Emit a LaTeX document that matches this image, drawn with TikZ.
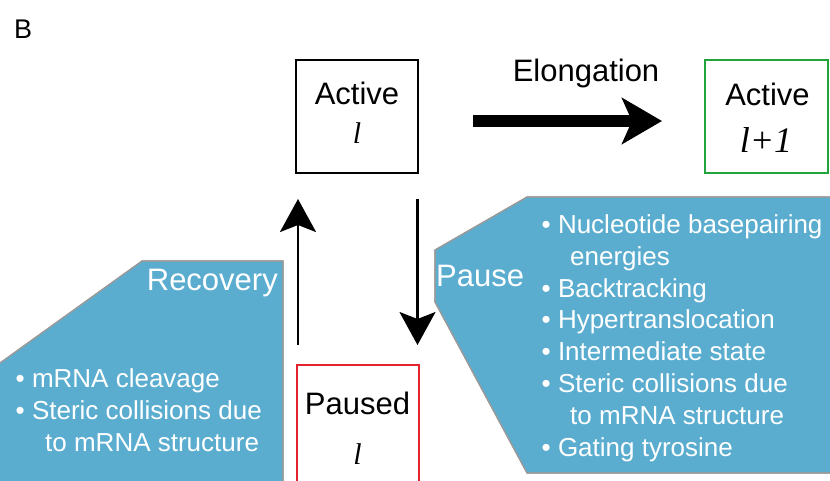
\documentclass[tikz,border=0pt]{standalone}
\usepackage{fontspec}
\setmainfont{Liberation Sans}
\newfontfamily\timesfont{Liberation Serif}
\usetikzlibrary{arrows.meta}
\definecolor{panelblue}{HTML}{5BADD0}
\definecolor{panelgray}{HTML}{9A9A9A}
\definecolor{boxgreen}{HTML}{22A33C}
\definecolor{boxred}{HTML}{E3242B}
\begin{document}
\begin{tikzpicture}[x=1pt,y=-1pt,
  statebox/.style={draw=#1, line width=2pt, minimum width=122pt, minimum height=113pt, inner sep=0pt},
  title/.style={font=\fontsize{31}{37}\selectfont, inner sep=0pt, anchor=base},
  var/.style={font=\timesfont\itshape\fontsize{30}{36}\selectfont, inner sep=0pt, anchor=base},
  panel/.style={fill=panelblue, draw=panelgray, line width=1.2pt},
  bul/.style={font=\fontsize{26}{31}\selectfont, text=white, inner sep=0pt, anchor=base west},
  smallarr/.style={line width=2.5pt, -{Stealth[length=33pt,width=36pt,inset=7pt]}},
  bigarr/.style={line width=12pt, -{Stealth[length=40pt,width=46pt,inset=10pt]}}]
\useasboundingbox (0,0) rectangle (830,480);

% panels
\fill[panel] (0,363) -- (142,261) -- (283,261) -- (283,490) -- (-2,490) -- (-2,363) -- cycle;
\fill[panel] (527,197) -- (840,197) -- (840,473) -- (527,473) -- (435,302) -- (435,250) -- cycle;
\draw[panelgray, line width=1.2pt] (0,363) -- (142,261) -- (283,261) -- (283,490);
\draw[panelgray, line width=1.2pt] (840,197) -- (527,197) -- (435,250) -- (435,302) -- (527,473) -- (840,473);

% label B
\node[font=\fontsize{27}{32}\selectfont, inner sep=0pt, anchor=base west] (lblB) at (14,38) {B};

% state boxes
\node[statebox=black] (active) at (357,116.5) {};
\node[statebox=boxgreen, minimum width=123pt] (activeB) at (766.5,116.5) {};
\node[statebox=boxred, minimum height=118pt] (paused) at (357.5,424) {};

\node[title] (activeT) at (357,104.3) {Active};
\node[var] (activeV) at (357,143) {l};
\node[title] (activeBT) at (767.5,105) {Active};
\node[var, font=\timesfont\itshape\fontsize{36}{42}\selectfont] (activeBV) at (766,152) {l+1};
\node[title] (pausedT) at (357.5,414) {Paused};
\node[var] (pausedV) at (357.5,464) {l};

% connectors
\draw[bigarr, shorten <=54pt, shorten >=42pt] ([yshift=-4.5pt]active.east) -- ([yshift=-4.5pt]activeB.west);
\node[title] (elong) at (586,81.7) {Elongation};
\draw[smallarr, shorten <=19pt, shorten >=25pt] ([xshift=2.5pt]paused.north west) -- ([xshift=2.5pt]paused.north west |- active.south);
\draw[smallarr, shorten <=25pt, shorten >=19pt] ([xshift=-1.5pt]active.south east) -- ([xshift=-1.5pt]active.south east |- paused.north);

% panel texts
\node[title, text=white, anchor=base east] (recov) at (278,290.7) {Recovery};
\node[bul] (r1) at (15.5,387.3) {\textbullet\ mRNA cleavage};
\node[bul] (r2) at (15.5,419.5) {\textbullet\ Steric collisions due};
\node[bul] (r3) at (45,451.7) {to mRNA structure};

\node[title, text=white, anchor=base west] (pause) at (436,286.7) {Pause};
\node[bul] (p1) at (541.5,233.5) {\textbullet\ Nucleotide basepairing};
\node[bul] (p2) at (570,265.3) {energies};
\node[bul] (p3) at (541.5,297.1) {\textbullet\ Backtracking};
\node[bul] (p4) at (541.5,328.9) {\textbullet\ Hypertranslocation};
\node[bul] (p5) at (541.5,360.7) {\textbullet\ Intermediate state};
\node[bul] (p6) at (541.5,392.5) {\textbullet\ Steric collisions due};
\node[bul] (p7) at (570,424.3) {to mRNA structure};
\node[bul] (p8) at (541.5,456.1) {\textbullet\ Gating tyrosine};
\end{tikzpicture}
\end{document}
